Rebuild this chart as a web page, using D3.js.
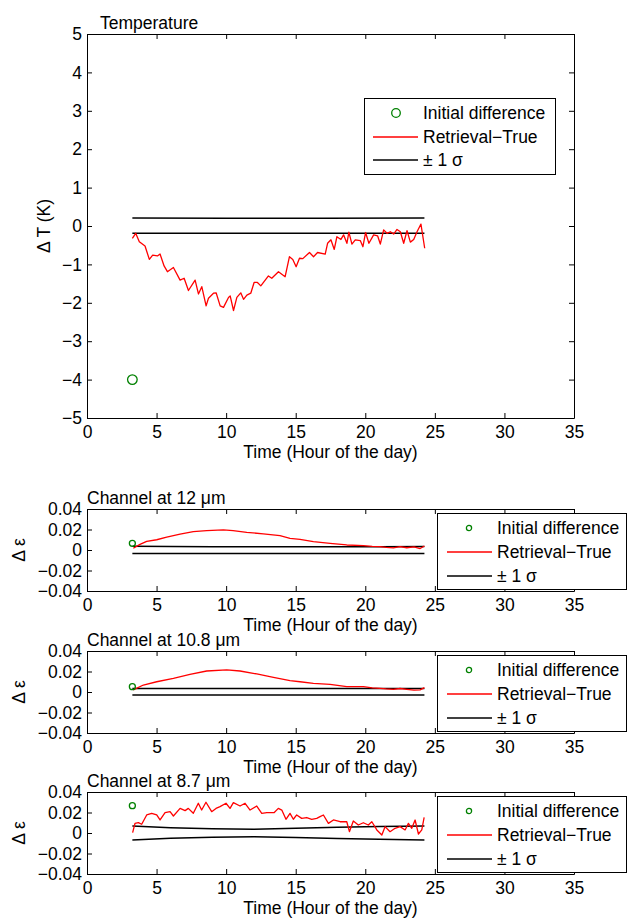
<!DOCTYPE html>
<meta charset="utf-8">
<html>
<head>
<title>Retrieval minus true</title>
<script src="https://cdn.jsdelivr.net/npm/d3@7"></script>
<style>
  body { margin: 0; background: #fff; }
  text { font-family: "Liberation Sans", Arial, Helvetica, sans-serif; fill: #000; }
  .axis path, .axis line { stroke: #000; }
</style>
</head>
<body>
<div id="chart"></div>
<script>

// ---- data ----
var xTicks = [0, 5, 10, 15, 20, 25, 30, 35];
var tTicks = [-5, -4, -3, -2, -1, 0, 1, 2, 3, 4, 5];
var eTicks = [-0.04, -0.02, 0, 0.02, 0.04];

var initHour = 3.26;
var tempInit = -4.0, ch12Init = 0.0065, ch108Init = 0.0052, ch87Init = 0.0267;

// temperature retrieval - true (K)
var tempHours = [3.26,3.50,3.76,4.17,4.48,4.72,5.06,5.25,5.54,5.78,6.21,6.69,6.98,7.29,7.77,8.01,8.25,8.56,8.73,9.09,
  9.28,9.57,9.81,10.17,10.29,10.53,10.77,11.05,11.25,11.49,11.77,12.01,12.25,12.49,13.04,13.28,13.76,14.24,14.55,14.79,
  15.03,15.27,15.51,15.99,16.28,16.57,17.12,17.29,17.53,17.77,17.96,18.25,18.44,18.68,18.82,19.04,19.28,19.64,19.83,20.02,
  20.26,20.6,20.89,21.08,21.32,21.56,21.8,22.04,22.28,22.52,22.76,23.0,23.24,23.48,23.72,24.0,24.27];
var tempDiff = [-0.32,-0.19,-0.41,-0.52,-0.87,-0.76,-0.78,-0.73,-1.04,-1.19,-1.08,-1.41,-1.36,-1.68,-1.41,-1.77,-1.58,-2.08,-1.88,-1.75,
  -1.74,-2.08,-2.12,-1.86,-1.82,-2.2,-1.86,-1.74,-1.91,-1.80,-1.75,-1.47,-1.47,-1.56,-1.30,-1.36,-1.19,-1.32,-0.80,-0.87,
  -1.06,-0.84,-0.85,-0.69,-0.80,-0.69,-0.73,-0.45,-0.36,-0.61,-0.28,-0.35,-0.23,-0.45,-0.16,-0.47,-0.36,-0.38,-0.54,-0.17,
  -0.45,-0.23,-0.26,-0.47,-0.10,-0.19,-0.15,-0.21,-0.09,-0.15,-0.45,-0.12,-0.42,-0.35,-0.15,0.05,-0.58];
var tempSigHours = [3.26, 10, 17, 24.25];
var tempSigUp = [0.21, 0.20, 0.20, 0.21];
var tempSigLo = [-0.19, -0.19, -0.19, -0.19];

// emissivity 12 um
var ch12Hours = [3.33,3.81,4.29,5.01,5.73,6.69,7.64,8.6,9.8,10.5,11.48,12.67,13.87,14.59,15.31,16.27,17.47,18.67,19.87,20.5,
  21.06,21.5,22.02,22.5,22.98,23.5,23.94,24.25];
var ch12Diff = [0.0017,0.0055,0.0085,0.010,0.0125,0.0155,0.018,0.019,0.0196,0.019,0.0172,0.0158,0.0140,0.0114,0.0104,0.0081,0.0065,0.0049,0.0042,0.0036,
  0.0033,0.0025,0.0020,0.0032,0.0022,0.0030,0.0014,0.0039];

// emissivity 10.8 um
var ch108Hours = [3.33,4.05,5.01,6.21,7.4,8.6,10.04,11.0,12.2,13.4,14.59,15.31,16.27,17.47,18.67,19.87,20.5,21.06,21.5,22.02,
  22.5,22.98,23.5,23.94,24.25];
var ch108Diff = [0.002,0.0068,0.010,0.0133,0.0172,0.0205,0.0215,0.0205,0.0176,0.0143,0.011,0.010,0.0085,0.0075,0.0052,0.0052,0.0040,0.0036,0.0030,0.0026,
  0.0034,0.0026,0.0018,0.0020,0.0042];

// emissivity 8.7 um
var ch87Hours = [3.28,3.45,3.69,3.93,4.29,4.65,5.01,5.25,5.61,5.97,6.21,6.69,7.05,7.28,7.64,8.0,8.24,8.55,8.96,9.27,
  9.56,9.99,10.28,10.52,11.0,11.36,11.72,12.2,12.56,12.92,13.44,13.75,14.0,14.3,14.59,14.83,15.07,15.43,15.79,16.15,
  16.51,16.75,16.99,17.35,17.71,18.19,18.67,18.86,19.14,19.5,19.86,20.22,20.47,20.83,21.19,21.42,21.78,22.14,22.5,22.86,
  23.1,23.34,23.58,23.82,24.06,24.23];
var ch87Diff = [0.0003,0.0094,0.0101,0.0085,0.0176,0.0192,0.0176,0.0127,0.0198,0.0208,0.0166,0.024,0.0218,0.024,0.0192,0.029,0.0224,0.030,0.0208,0.024,
  0.0257,0.029,0.024,0.0296,0.0263,0.029,0.0224,0.0263,0.0192,0.0198,0.0198,0.024,0.0224,0.0134,0.0192,0.0134,0.0176,0.0143,0.0151,0.0134,
  0.0143,0.016,0.0176,0.0094,0.0127,0.011,0.011,0.0013,0.0117,0.0078,0.010,0.0078,0.011,0.003,-0.002,0.0062,0.0013,0.0046,0.0062,0.003,
  0.0094,0.0046,0.0127,-0.001,0.003,0.0153];

// +/- 1 sigma for the channels
var sigHours = [3.26, 6, 9, 12, 15, 18, 21, 24.25];
var ch12SigUp = [0.0036,0.0033,0.0032,0.0032,0.0032,0.0032,0.0032,0.0033];
var ch12SigLo = [-0.0033,-0.0033,-0.0033,-0.0033,-0.0033,-0.0033,-0.0033,-0.0033];
var ch108SigUp = [0.0035,0.0035,0.0035,0.0035,0.0035,0.0035,0.0035,0.0035];
var ch108SigLo = [-0.003,-0.003,-0.003,-0.003,-0.003,-0.003,-0.003,-0.003];
var ch87SigUp = [0.0068,0.0052,0.0042,0.0037,0.0046,0.0056,0.0063,0.0068];
var ch87SigLo = [-0.0068,-0.0052,-0.0042,-0.0037,-0.0044,-0.0054,-0.0062,-0.0068];

var legendLabels = ["Initial difference", "Retrieval\u2212True", "\u00b1 1 \u03c3"];

// ---- drawing ----
var fs = 17.5;
var svg = d3.select("#chart").append("svg")
    .attr("width", 627)
    .attr("height", 918);

var efmt = function(d) { return d === 0 ? "0" : d3.format(".2f")(d); };

function drawPanel(p) {
  var x = d3.scaleLinear().domain([0, 35]).range([87, 574]);
  var y = d3.scaleLinear().domain(p.yDomain).range([p.bottom, p.top]);
  var g = svg.append("g");

  // frame with inward ticks on all four sides
  g.append("g").attr("class", "axis").attr("transform", "translate(0," + p.bottom + ")")
    .call(d3.axisBottom(x).tickValues(xTicks).tickSizeInner(-5).tickSizeOuter(0).tickPadding(8).tickFormat(d3.format("d")));
  g.append("g").attr("class", "axis").attr("transform", "translate(0," + p.top + ")")
    .call(d3.axisTop(x).tickValues(xTicks).tickSizeInner(-5).tickSizeOuter(0).tickFormat(""));
  g.append("g").attr("class", "axis").attr("transform", "translate(87,0)")
    .call(d3.axisLeft(y).tickValues(p.yTicks).tickSizeInner(-5).tickSizeOuter(0).tickPadding(5).tickFormat(p.yFmt));
  g.append("g").attr("class", "axis").attr("transform", "translate(574,0)")
    .call(d3.axisRight(y).tickValues(p.yTicks).tickSizeInner(-5).tickSizeOuter(0).tickFormat(""));
  g.selectAll(".axis text").style("font-size", fs + "px").style("font-family", null);
  g.selectAll(".axis path, .axis line").attr("stroke-width", 1);

  var line = d3.line().x(function(d) { return x(d[0]); }).y(function(d) { return y(d[1]); });

  g.append("path").datum(d3.zip(p.sigHours, p.sigUp))
    .attr("d", line).attr("fill", "none").attr("stroke", "#000").attr("stroke-width", 1.5);
  g.append("path").datum(d3.zip(p.sigHours, p.sigLo))
    .attr("d", line).attr("fill", "none").attr("stroke", "#000").attr("stroke-width", 1.5);
  g.append("path").datum(d3.zip(p.hours, p.diff))
    .attr("d", line).attr("fill", "none").attr("stroke", "#ff0000").attr("stroke-width", 1.3)
    .attr("stroke-linejoin", "round");

  g.append("circle").attr("cx", x(initHour)).attr("cy", y(p.init)).attr("r", p.markR)
    .attr("fill", "none").attr("stroke", "#008000").attr("stroke-width", 1.3);

  // titles and labels
  g.append("text").attr("x", p.titleX).attr("y", p.top - 5).style("font-size", fs + "px").text(p.title);
  g.append("text").attr("x", 330.5).attr("y", p.bottom + 40).attr("text-anchor", "middle")
    .style("font-size", fs + "px").text("Time (Hour of the day)");
  g.append("text").attr("transform", "translate(" + p.yLabelX + "," + ((p.top + p.bottom) / 2) + ") rotate(-90)")
    .attr("text-anchor", "middle").style("font-size", fs + "px").text(p.yLabel);

  // legend
  var L = p.legend;
  var lg = g.append("g").attr("transform", "translate(" + L.x + "," + L.y + ")");
  lg.append("rect").attr("x", 0.5).attr("y", 0.5).attr("width", L.w).attr("height", L.h)
    .attr("fill", "#fff").attr("stroke", "#000").attr("stroke-width", 1);
  var rows = lg.selectAll(".row").data(legendLabels).enter().append("g")
    .attr("transform", function(d, i) { return "translate(0," + L.rows[i] + ")"; });
  rows.append("text").attr("x", L.textX).attr("dy", "0.35em").style("font-size", fs + "px").text(function(d) { return d; });
  rows.filter(function(d, i) { return i === 0; }).append("circle")
    .attr("cx", L.markX).attr("r", p.legendMarkR)
    .attr("fill", "none").attr("stroke", "#008000").attr("stroke-width", 1.3);
  rows.filter(function(d, i) { return i > 0; }).append("line")
    .attr("x1", L.lineX0).attr("x2", L.lineX1)
    .attr("stroke", function(d, i) { return i === 0 ? "#ff0000" : "#000"; })
    .attr("stroke-width", function(d, i) { return i === 0 ? 1.3 : 1.5; });
}

var topLegend = { x: 364, y: 98, w: 191, h: 76, rows: [15, 39, 62], markX: 32, lineX0: 9, lineX1: 54, textX: 59 };
function lowLegend(top) {
  return { x: 437, y: top + 4, w: 189, h: 76, rows: [15, 39, 63], markX: 32, lineX0: 10, lineX1: 55, textX: 60 };
}

drawPanel({ top: 34, bottom: 418, yDomain: [-5, 5], yTicks: tTicks, yFmt: d3.format("d"),
  hours: tempHours, diff: tempDiff, sigHours: tempSigHours, sigUp: tempSigUp, sigLo: tempSigLo,
  init: tempInit, markR: 4.8, legendMarkR: 4.3,
  title: "Temperature", titleX: 100, yLabel: "\u0394 T (K)", yLabelX: 50, legend: topLegend });

drawPanel({ top: 509, bottom: 591, yDomain: [-0.04, 0.04], yTicks: eTicks, yFmt: efmt,
  hours: ch12Hours, diff: ch12Diff, sigHours: sigHours, sigUp: ch12SigUp, sigLo: ch12SigLo,
  init: ch12Init, markR: 3, legendMarkR: 2.6,
  title: "Channel at 12 \u03bcm", titleX: 87, yLabel: "\u0394 \u03b5", yLabelX: 25, legend: lowLegend(509) });

drawPanel({ top: 651, bottom: 733, yDomain: [-0.04, 0.04], yTicks: eTicks, yFmt: efmt,
  hours: ch108Hours, diff: ch108Diff, sigHours: sigHours, sigUp: ch108SigUp, sigLo: ch108SigLo,
  init: ch108Init, markR: 3, legendMarkR: 2.6,
  title: "Channel at 10.8 \u03bcm", titleX: 87, yLabel: "\u0394 \u03b5", yLabelX: 25, legend: lowLegend(651) });

drawPanel({ top: 792, bottom: 874, yDomain: [-0.04, 0.04], yTicks: eTicks, yFmt: efmt,
  hours: ch87Hours, diff: ch87Diff, sigHours: sigHours, sigUp: ch87SigUp, sigLo: ch87SigLo,
  init: ch87Init, markR: 3, legendMarkR: 2.6,
  title: "Channel at 8.7 \u03bcm", titleX: 87, yLabel: "\u0394 \u03b5", yLabelX: 25, legend: lowLegend(792) });

</script>
</body>
</html>
